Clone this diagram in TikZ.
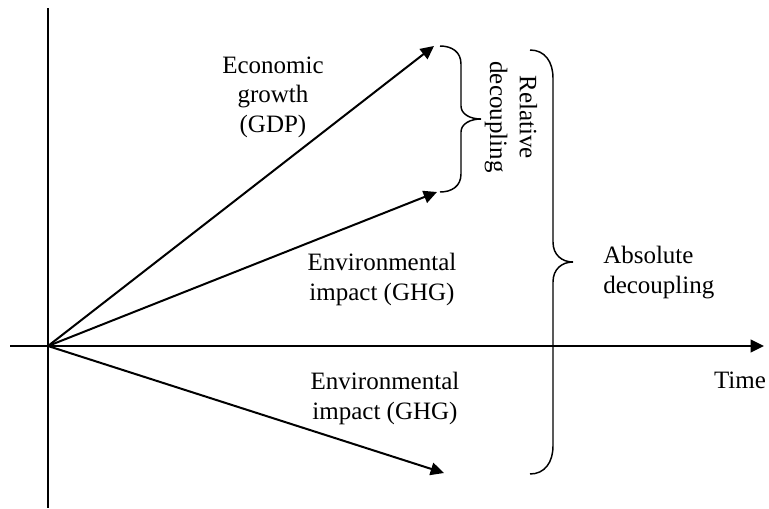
\documentclass[tikz,border=0pt]{standalone}
\usepackage{fontspec}
\setmainfont{Liberation Serif}
\usetikzlibrary{arrows.meta}
\begin{document}
\begin{tikzpicture}[x=0.75pt,y=-0.75pt,
  axisline/.style={line width=1.5pt},
  arrowline/.style={line width=1.5pt,-{Triangle[length=10pt,width=9.5pt]}},
  bracestyle/.style={line width=1.1pt},
  lbl/.style={inner sep=0pt,font=\fontsize{18.75}{22.2}\selectfont,align=center}]
\useasboundingbox (0,0) rectangle (769,508);
% coordinates
\coordinate (O) at (48,346);
\coordinate (xl) at (10,346);
\coordinate (xr) at (764,346);
\coordinate (yt) at (48,8);
\coordinate (yb) at (48,508);
\coordinate (gdp) at (434,46);
\coordinate (envup) at (437,192);
\coordinate (envdown) at (444,473);
% axes
\draw[axisline] (yt) -- (yb);
\draw[arrowline] (xl) -- (xr);
% arrows
\draw[arrowline] (O) -- (gdp);
\draw[arrowline] (O) -- (envup);
\draw[arrowline] (O) -- (envdown);
% braces
\draw[bracestyle] (440,46) .. controls (452,46) and (461,52) .. (461,64)
  -- (461,106) .. controls (461,114) and (470,119) .. (481,119)
  .. controls (470,119) and (461,124) .. (461,132)
  -- (461,174) .. controls (461,186) and (452,192) .. (440,192);
\draw[bracestyle] (530,50) .. controls (545,50) and (553,62) .. (553,78)
  -- (553,242) .. controls (553,255) and (562,262) .. (573,262)
  .. controls (562,262) and (553,269) .. (553,282)
  -- (553,446) .. controls (553,462) and (545,474) .. (530,474);
% labels
\node[lbl,anchor=north] (tgdp) at (273,56.5) {Economic\\growth\\(GDP)};
\node[lbl,anchor=north] (tenvup) at (382,253) {Environmental\\impact (GHG)};
\node[lbl,anchor=north] (tenvdown) at (385,372) {Environmental\\impact (GHG)};
\node[lbl,anchor=north west,align=left] (tabs) at (603,246) {Absolute\\decoupling};
\node[lbl,rotate=-90] (trel) at (511,117) {Relative\\decoupling};
\node[lbl,anchor=base] (ttime) at (740,388) {Time};
\end{tikzpicture}
\end{document}
